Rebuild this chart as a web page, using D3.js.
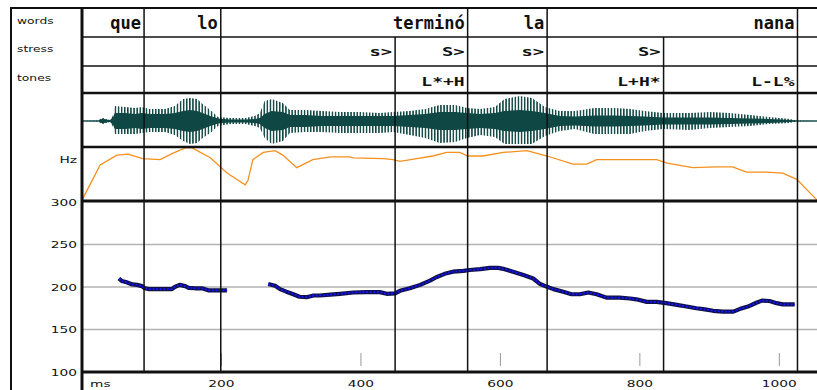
<!DOCTYPE html>
<html>
<head>
<meta charset="utf-8">
<script src="https://cdn.jsdelivr.net/npm/d3@7"></script>
<style>
  html, body { margin: 0; padding: 0; background: #fff; }
  svg { display: block; }
</style>
</head>
<body>
<div id="chart"></div>
<script>
// --- tiers (times in ms) ---
const wordTier = [
  { start: 0, end: 89, label: 'que' },
  { start: 89, end: 199, label: 'lo' },
  { start: 199, end: 553, label: 'terminó' },
  { start: 553, end: 667, label: 'la' },
  { start: 667, end: 1026, label: 'nana' }
];
const stressTier = [
  { start: 0, end: 89, label: '' },
  { start: 89, end: 199, label: '' },
  { start: 199, end: 449, label: 's>' },
  { start: 449, end: 553, label: 'S>' },
  { start: 553, end: 667, label: 's>' },
  { start: 667, end: 834, label: 'S>' },
  { start: 834, end: 1026, label: '' }
];
const toneTier = [
  { start: 0, end: 89, label: '' },
  { start: 89, end: 199, label: '' },
  { start: 199, end: 449, label: '' },
  { start: 449, end: 553, label: 'L*+H' },
  { start: 553, end: 667, label: '' },
  { start: 667, end: 834, label: 'L+H*' },
  { start: 834, end: 1026, label: 'L-L%' }
];
const tierNames = ['words', 'stress', 'tones'];
const segmentBounds = [89, 199, 449, 553, 667, 834, 1026];

// --- waveform envelope (ms, upper peak, lower peak, dense core) ---
const waveTimes = [0, 24, 26, 30, 34, 40, 44, 47, 62, 76, 86, 97, 119, 133, 145, 155, 165, 173, 184, 195, 212, 234, 248, 255, 262, 272, 288, 298, 320, 344, 370, 399, 427, 446, 470, 492, 513, 535, 552, 571, 592, 606, 628, 645, 664, 685, 707, 735, 764, 786, 807, 833, 872, 900, 929, 958, 986, 1015, 1025, 1054];
const wavePeakUp = [0, 0.5, 2, 3, 2, 1, 5, 15, 14, 13, 14, 12, 12, 15, 22, 23, 22, 17, 11, 4, 3, 3, 5, 8, 20, 22, 18, 11, 11, 10, 9, 9, 8, 9, 10, 12, 16, 16, 13, 12, 14, 22, 25, 23, 14, 10, 10, 13, 13, 12, 10, 8, 8, 9, 8, 6, 4, 2, 0.5, 0];
const wavePeakDown = [0, 0.5, 2, 3, 2, 1, 5, 13, 13, 13, 12, 11, 11, 14, 20, 23, 22, 17, 12, 5, 3, 3, 5, 7, 17, 23, 20, 12, 11, 11, 12, 12, 12, 11, 14, 17, 22, 21, 17, 14, 16, 23, 23, 23, 15, 10, 8, 13, 13, 13, 10, 8, 9, 7, 6, 5, 3, 2, 0.5, 0];
const waveCore = [0.5, 0.5, 1.5, 2.5, 1.5, 1, 3, 8, 8, 7, 8, 7, 7, 8, 10, 11, 10, 8, 5, 2.5, 1.5, 1.5, 2, 3, 7, 10, 9, 6, 6, 5, 5, 5, 5, 5, 6, 7, 9, 9, 8, 7, 8, 10, 11, 10, 8, 5, 4.5, 5.5, 5.5, 5, 4.5, 3.5, 3.5, 3.5, 3, 2.5, 2, 1, 0.5, 0.5];

// --- intensity contour (ms, dB) ---
const intensity = [
  [0, 50.5], [26, 70], [50, 75.5], [66, 76], [87, 73.5], [112, 73], [130, 76.5], [148, 79.5], [158, 79.5],
  [184, 74], [208, 65.5], [234, 59], [238, 61.5], [245, 73], [260, 77], [277, 78], [288, 75.5], [308, 68.5],
  [331, 73], [356, 74.5], [384, 74.5], [389, 74], [432, 73.5], [446, 73], [456, 72], [480, 73.5], [503, 75],
  [523, 77], [542, 77], [553, 75], [575, 75], [604, 77], [638, 78], [667, 75], [704, 70.5], [724, 70.5],
  [738, 73], [824, 73], [839, 71], [876, 68.5], [910, 69], [933, 69], [953, 66], [982, 66], [1005, 65.5],
  [1025, 62], [1054, 50.5]
];

// --- F0 track (ms, Hz), two voiced stretches ---
const pitchSeg1 = [
  [53, 210], [57, 207], [64, 205.5], [72, 203], [79, 202.5], [86, 201], [90, 198.5], [96, 197.5], [106, 197.5],
  [117, 197.5], [129, 197.5], [133, 200], [140, 202.5], [148, 201], [153, 199], [162, 198.5], [172, 198.5],
  [182, 196], [190, 196], [199, 196], [208, 196]
];
const pitchSeg2 = [
  [267, 203.5], [277, 201.5], [284, 197.5], [293, 194.5], [303, 191.5], [312, 188.5], [322, 188], [332, 190],
  [341, 190], [356, 191], [370, 192], [389, 193.5], [408, 194], [427, 194], [437, 192], [449, 192.5], [456, 195.5],
  [470, 198.5], [485, 202.5], [499, 207.5], [508, 211.5], [520, 215.5], [532, 218], [547, 219], [556, 220],
  [571, 221], [585, 222.5], [597, 222.5], [606, 221], [618, 218], [633, 214], [647, 210], [657, 203.5],
  [666, 200.5], [676, 197.5], [690, 194.5], [702, 191.5], [714, 191.5], [726, 193.5], [738, 191.5], [752, 187.5],
  [771, 187.5], [786, 186.5], [795, 185.5], [810, 182.5], [824, 182.5], [838, 181], [853, 179], [867, 177],
  [881, 175], [891, 174], [905, 172], [919, 171], [934, 171], [943, 174], [955, 177], [967, 181.5], [975, 184],
  [986, 183.5], [996, 181], [1005, 179.5], [1015, 179.5], [1022, 179.5]
];
const pitchTicks = [300, 250, 200, 150, 100];
const timeTicks = [200, 400, 600, 800, 1000];

// --- layout ---
const W = 817, H = 390;
const frameLeft = 11, plotLeft = 82, plotRight = 817;
const rows = { top: 8, stress: 37, tones: 66, wave: 93, hz: 147, pitch: 201, bottom: 372 };

const x = d3.scaleLinear().domain([0, 1054]).range([plotLeft, plotRight]);
const yPitch = d3.scaleLinear().domain([100, 300]).range([372, 202]);
const yInt = d3.scaleLinear().domain([50, 80]).range([201, 147]);
const yWave = d3.scaleLinear().domain([-27, 27]).range([148, 94]);

const svg = d3.select('#chart').append('svg')
  .attr('width', W).attr('height', H);

const labelFont = "'DejaVu Sans', sans-serif";
const monoFont = "'DejaVu Sans Mono', monospace";
const waveColor = '#0f4744';

// stretched text helper (the reference type is wide)
function wideText(g, tx, ty, str, sx, size, anchor, weight, font) {
  return g.append('text')
    .attr('transform', `translate(${tx},${ty}) scale(${sx},1)`)
    .attr('text-anchor', anchor)
    .attr('font-family', font || labelFont)
    .attr('font-size', size)
    .attr('font-weight', weight || 'normal')
    .attr('fill', '#111')
    .text(str);
}

svg.append('defs').append('pattern')
  .attr('id', 'spikes')
  .attr('patternUnits', 'userSpaceOnUse')
  .attr('width', 3.1).attr('height', 10)
  .append('rect')
  .attr('width', 1.5).attr('height', 10)
  .attr('fill', waveColor);

// gridlines in pitch panel
svg.append('g').selectAll('line')
  .data([250, 200, 150]).join('line')
  .attr('x1', plotLeft).attr('x2', plotRight)
  .attr('y1', d => yPitch(d)).attr('y2', d => yPitch(d))
  .attr('stroke', '#b3b3b3').attr('stroke-width', 1.5);

// time ticks
svg.append('g').selectAll('line')
  .data(timeTicks).join('line')
  .attr('x1', d => x(d)).attr('x2', d => x(d))
  .attr('y1', 353).attr('y2', 366)
  .attr('stroke', '#999').attr('stroke-width', 1);

// waveform
const waveData = waveTimes.map((t, i) => ({ t, up: wavePeakUp[i], down: wavePeakDown[i], core: waveCore[i] }));
svg.append('line')
  .attr('x1', plotLeft).attr('x2', plotRight)
  .attr('y1', yWave(0)).attr('y2', yWave(0))
  .attr('stroke', '#2e6b66').attr('stroke-width', 1);
svg.append('path')
  .datum(waveData)
  .attr('fill', 'url(#spikes)')
  .attr('d', d3.area().x(d => x(d.t)).y0(d => yWave(-d.down)).y1(d => yWave(d.up)));
svg.append('path')
  .datum(waveData)
  .attr('fill', waveColor)
  .attr('d', d3.area().x(d => x(d.t)).y0(d => yWave(-d.core)).y1(d => yWave(d.core)));

// intensity contour
svg.append('path')
  .datum(intensity)
  .attr('fill', 'none')
  .attr('stroke', '#f7901e')
  .attr('stroke-width', 1.3)
  .attr('d', d3.line().x(d => x(d[0])).y(d => yInt(d[1])));

// F0 track
const pitchLine = d3.line().x(d => x(d[0])).y(d => yPitch(d[1]));
[pitchSeg1, pitchSeg2].forEach(seg => {
  svg.append('path').datum(seg)
    .attr('fill', 'none').attr('stroke', '#10104a').attr('stroke-width', 4.2)
    .attr('stroke-linejoin', 'round')
    .attr('d', pitchLine);
  svg.append('path').datum(seg)
    .attr('fill', 'none').attr('stroke', '#1414ff').attr('stroke-width', 1.8)
    .attr('stroke-dasharray', '2.2,1.4')
    .attr('d', pitchLine);
});

// segment boundaries
const bounds = svg.append('g').attr('stroke', '#111').attr('stroke-width', 1.5);
segmentBounds.forEach(b => {
  bounds.append('line')
    .attr('x1', x(b)).attr('x2', x(b))
    .attr('y1', rows.wave).attr('y2', rows.bottom);
});
function tierCells(tier, y0, y1) {
  tier.forEach(c => {
    bounds.append('line')
      .attr('x1', x(c.end)).attr('x2', x(c.end))
      .attr('y1', y0).attr('y2', y1);
  });
}
tierCells(wordTier, rows.top, rows.stress);
tierCells(stressTier, rows.stress, rows.tones);
tierCells(toneTier, rows.tones, rows.wave);

// horizontal frame lines
const hl = svg.append('g').attr('stroke', '#111');
[[rows.top, 2, frameLeft], [rows.stress, 1.6, plotLeft], [rows.tones, 1.6, plotLeft],
 [rows.wave, 2.6, plotLeft], [rows.hz, 2.6, plotLeft], [rows.pitch, 3, plotLeft], [rows.bottom, 3, plotLeft]]
  .forEach(([y, w, x0]) => {
    hl.append('line').attr('x1', x0).attr('x2', W).attr('y1', y).attr('y2', y).attr('stroke-width', w);
  });
hl.append('line').attr('x1', frameLeft).attr('x2', frameLeft).attr('y1', rows.top - 1).attr('y2', H).attr('stroke-width', 2);
hl.append('line').attr('x1', plotLeft).attr('x2', plotLeft).attr('y1', rows.top - 1).attr('y2', H).attr('stroke-width', 3);

// tier labels
const tl = svg.append('g');
tierNames.forEach((n, i) => wideText(tl, 17, [24, 52, 81][i], n, 1.45, 8.5, 'start'));

// tier text
const tt = svg.append('g');
wordTier.forEach(c => {
  tt.append('text')
    .attr('x', x(c.end) - 3).attr('y', 29)
    .attr('text-anchor', 'end')
    .attr('font-family', monoFont).attr('font-weight', 'bold')
    .attr('font-size', 17).attr('fill', '#111')
    .text(c.label);
});
stressTier.filter(c => c.label).forEach(c => {
  wideText(tt, x(c.end) - 3, 55.5, c.label, 1.5, 12.5, 'end', 'bold', monoFont);
});
toneTier.filter(c => c.label).forEach(c => {
  wideText(tt, x(c.end) - 3, 86, c.label, 1.5, 12, 'end', 'bold', monoFont);
});

// axis labels
const ax = svg.append('g');
pitchTicks.forEach(v => wideText(ax, 77, yPitch(v) + 3.5, String(v), 1.45, 9.5, 'end'));
wideText(ax, 77, 163, 'Hz', 1.45, 9.5, 'end');
timeTicks.forEach(v => wideText(ax, x(v), 387, String(v), 1.45, 9.5, 'middle'));
wideText(ax, 90, 387, 'ms', 1.45, 9.5, 'start');
</script>
</body>
</html>
